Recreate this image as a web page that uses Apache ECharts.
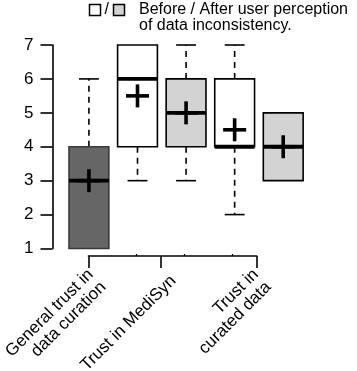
<!DOCTYPE html>
<html>
<head>
<meta charset="utf-8">
<script src="https://cdn.jsdelivr.net/npm/echarts@6/dist/echarts.min.js"></script>
<style>
  html, body { margin: 0; padding: 0; background: #fff; }
  #chart { width: 357px; height: 371px; }
</style>
</head>
<body>
<div id="chart"></div>
<script>
// ---- data ----
const boxNames = ['General trust in data curation', 'Trust in MediSyn (before)', 'Trust in MediSyn (after)', 'Trust in curated data (before)', 'Trust in curated data (after)'];
const boxPhase = ['general', 'before', 'after', 'before', 'after'];
const whiskerLow = [1, 3, 3, 2, 3];
const q1Values = [1, 4, 4, 4, 3];
const medianValues = [3, 6, 5, 4, 4];
const q3Values = [4, 7, 6, 6, 5];
const whiskerHigh = [6, 7, 7, 7, 5];
const meanValues = [3, 5.5, 5, 4.5, 4];
const yTicks = [1, 2, 3, 4, 5, 6, 7];
const xLabels = ['General trust in\ndata curation', 'Trust in MediSyn', 'Trust in\ncurated data'];
const xTickPositions = [1, 2.5, 4.5];
const xMinorTickPositions = [2, 3, 4];
const xLabelPositions = [1.14, 2.72, 4.56];
const legendText = 'Before / After user perception\nof data inconsistency.';

// ---- styles ----
const FONT = '"Liberation Sans", Arial, Helvetica, sans-serif';
const phaseFill = { general: '#666666', before: '#ffffff', after: '#d3d3d3' };
const phaseStroke = { general: '#3a3a3a', before: '#000000', after: '#000000' };

const boxData = boxNames.map((n, i) => [i + 1, whiskerLow[i], q1Values[i], medianValues[i], q3Values[i], whiskerHigh[i], meanValues[i], i]);

const chart = echarts.init(document.getElementById('chart'), null, { renderer: 'canvas' });

function renderBox(params, api) {
  const x = api.value(0);
  const lo = api.value(1), q1 = api.value(2), med = api.value(3), q3 = api.value(4), hi = api.value(5), mean = api.value(6);
  const idx = api.value(7);
  const halfW = 0.41, capHalf = 0.205;
  const pTL = api.coord([x - halfW, q3]);
  const pBR = api.coord([x + halfW, q1]);
  const cx = api.coord([x, 1])[0];
  const children = [];
  const dash = { stroke: '#000', lineWidth: 1.6, lineDash: [6, 5] };
  const cap = { stroke: '#000', lineWidth: 1.6 };
  const capL = api.coord([x - capHalf, 1])[0], capR = api.coord([x + capHalf, 1])[0];
  if (hi > q3) {
    const yq = api.coord([x, q3])[1], yh = api.coord([x, hi])[1];
    children.push({ type: 'line', shape: { x1: cx, y1: yq, x2: cx, y2: yh }, style: dash });
    children.push({ type: 'line', shape: { x1: capL, y1: yh, x2: capR, y2: yh }, style: cap });
  }
  if (lo < q1) {
    const yq = api.coord([x, q1])[1], yl = api.coord([x, lo])[1];
    children.push({ type: 'line', shape: { x1: cx, y1: yq, x2: cx, y2: yl }, style: dash });
    children.push({ type: 'line', shape: { x1: capL, y1: yl, x2: capR, y2: yl }, style: cap });
  }
  const phase = boxPhase[idx];
  children.push({
    type: 'rect',
    shape: { x: pTL[0], y: pTL[1], width: pBR[0] - pTL[0], height: pBR[1] - pTL[1] },
    style: { fill: phaseFill[phase], stroke: phaseStroke[phase], lineWidth: 1.6 }
  });
  const ym = api.coord([x, med])[1];
  children.push({ type: 'line', shape: { x1: pTL[0], y1: ym, x2: pBR[0], y2: ym }, style: { stroke: '#000', lineWidth: 3.8 } });
  const yMean = api.coord([x, mean])[1];
  const cr = 11.5;
  children.push({ type: 'line', shape: { x1: cx - cr, y1: yMean, x2: cx + cr, y2: yMean }, style: { stroke: '#000', lineWidth: 3.6 } });
  children.push({ type: 'line', shape: { x1: cx, y1: yMean - cr, x2: cx, y2: yMean + cr }, style: { stroke: '#000', lineWidth: 3.6 } });
  return { type: 'group', children: children };
}

const hiddenAxisParts = { axisLine: { show: false }, axisTick: { show: false }, axisLabel: { show: false }, splitLine: { show: false } };

const option = {
  backgroundColor: '#ffffff',
  animation: false,
  textStyle: { fontFamily: FONT },
  grid: [
    { left: 52.5, top: 45, width: 255, height: 203.5 },
    { left: 88.4, top: 255, width: 168.3, height: 1 },
    { left: 52.5, top: 255, width: 255, height: 1 }
  ],
  xAxis: [
    Object.assign({ gridIndex: 0, type: 'value', min: 0.25, max: 5.5 }, hiddenAxisParts),
    {
      gridIndex: 1, type: 'value', min: 1, max: 4.5, position: 'bottom',
      axisLine: { show: true, onZero: false, lineStyle: { color: '#000', width: 1.6 } },
      axisTick: { show: true, customValues: xTickPositions, length: 12, lineStyle: { color: '#000', width: 1.6 } },
      axisLabel: { show: false }, splitLine: { show: false }
    },
    {
      gridIndex: 1, type: 'value', min: 1, max: 4.5, position: 'bottom',
      axisLine: { show: false, onZero: false },
      axisTick: { show: true, inside: true, customValues: xMinorTickPositions, length: 2, lineStyle: { color: '#000', width: 1.2 } },
      axisLabel: { show: false }, splitLine: { show: false }
    },
    {
      gridIndex: 2, type: 'value', min: 0.25, max: 5.5, position: 'bottom',
      axisLine: { show: false, onZero: false }, axisTick: { show: false }, splitLine: { show: false },
      axisLabel: {
        show: true, customValues: xLabelPositions, rotate: 45, margin: 23,
        align: 'right', verticalAlign: 'middle', hideOverlap: false,
        color: '#000', fontSize: 17, lineHeight: 18, fontFamily: FONT,
        formatter: function (v) {
          let best = 0;
          xLabelPositions.forEach((p, i) => { if (Math.abs(p - v) < Math.abs(xLabelPositions[best] - v)) best = i; });
          return xLabels[best];
        }
      }
    }
  ],
  yAxis: [{
    gridIndex: 0, type: 'value', min: 1, max: 7, interval: 1,
    axisLine: { show: true, onZero: false, lineStyle: { color: '#000', width: 1.6 } },
    axisTick: { show: true, length: 12, lineStyle: { color: '#000', width: 1.6 } },
    axisLabel: { color: '#000', fontSize: 17, margin: 19, fontFamily: FONT,
      formatter: function (v) { return yTicks.indexOf(v) >= 0 ? String(v) : ''; } },
    splitLine: { show: false }
  },
  Object.assign({ gridIndex: 1, type: 'value', min: 0, max: 1 }, hiddenAxisParts),
  Object.assign({ gridIndex: 2, type: 'value', min: 0, max: 1 }, hiddenAxisParts)],
  series: [{
    type: 'custom',
    xAxisIndex: 0, yAxisIndex: 0,
    renderItem: renderBox,
    data: boxData,
    encode: { x: 0, y: [1, 2, 3, 4, 5] },
    clip: false
  }],
  graphic: [
    { type: 'rect', shape: { x: 89.5, y: 4.5, width: 11, height: 11 }, style: { fill: '#fff', stroke: '#000', lineWidth: 1.5 } },
    { type: 'text', x: 104.5, y: 2, style: { text: '/', fontSize: 16, fontFamily: FONT, fill: '#000' } },
    { type: 'rect', shape: { x: 113.5, y: 4.5, width: 11, height: 11 }, style: { fill: '#d3d3d3', stroke: '#000', lineWidth: 1.5 } },
    { type: 'text', x: 139, y: 1, style: { text: legendText, fontSize: 16, lineHeight: 16.5, fontFamily: FONT, fill: '#000' } }
  ]
};
chart.setOption(option);
</script>
</body>
</html>
